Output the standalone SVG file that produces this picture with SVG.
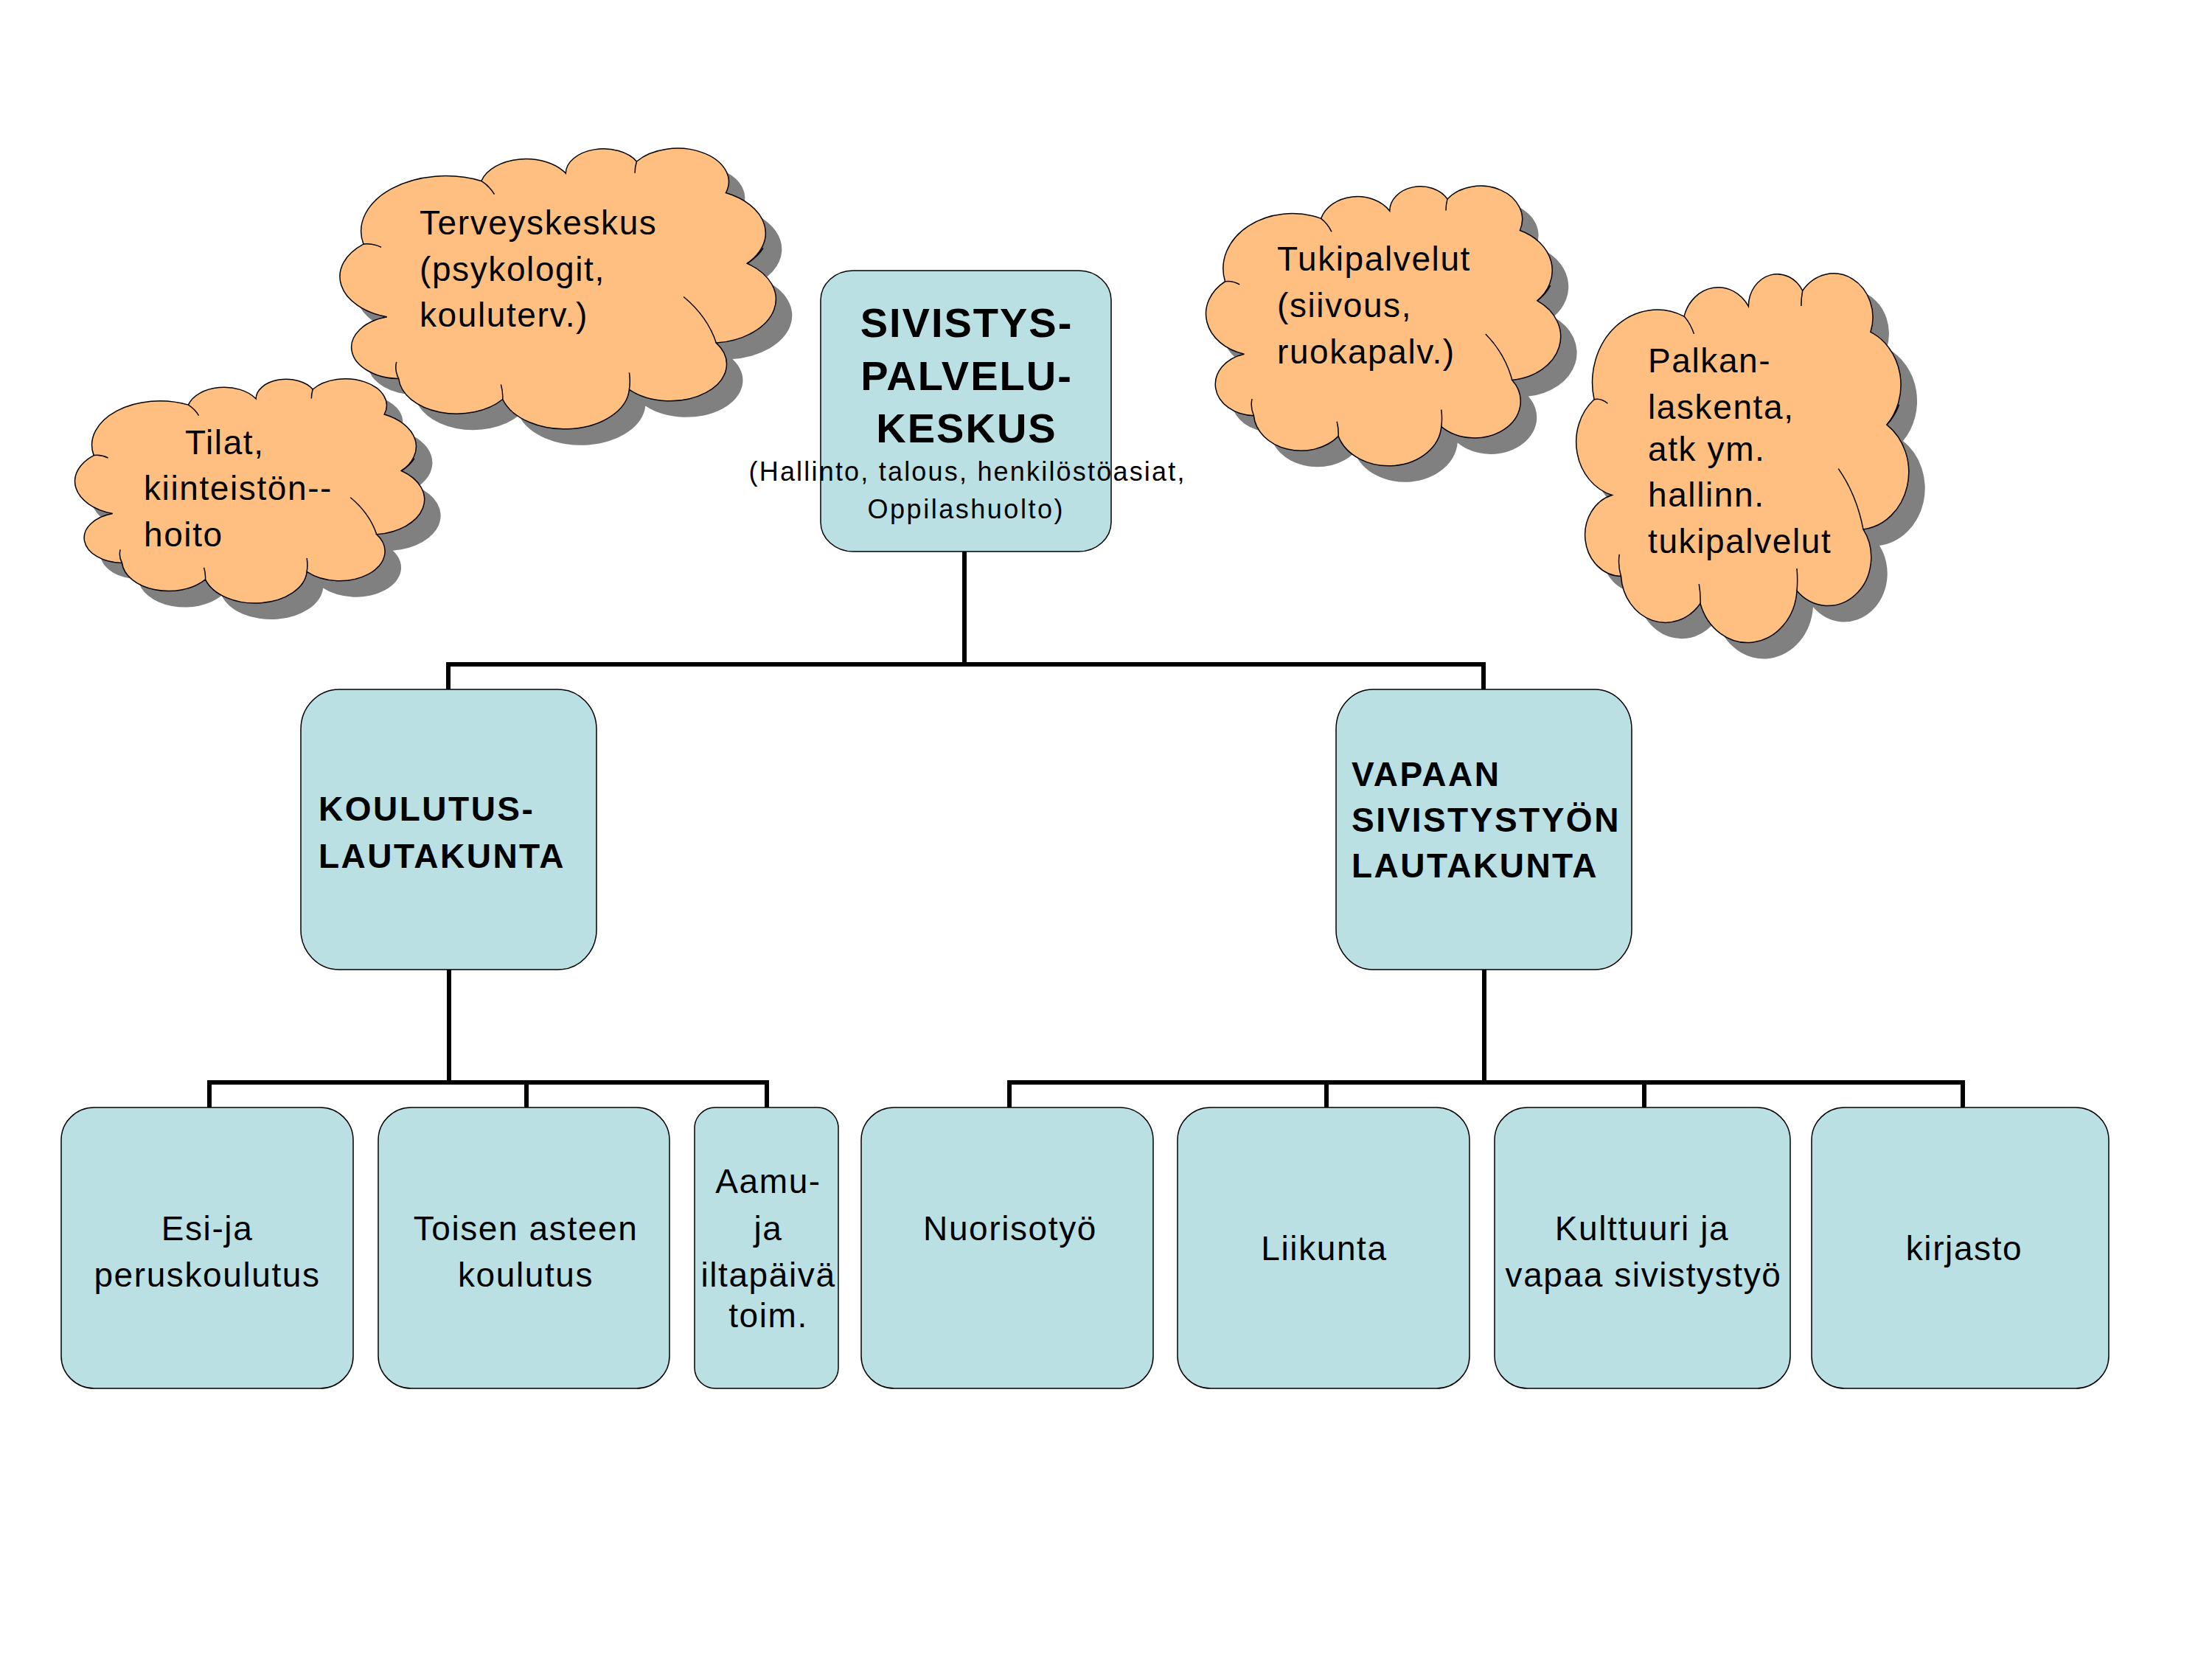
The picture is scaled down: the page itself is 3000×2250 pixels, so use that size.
<svg xmlns="http://www.w3.org/2000/svg" width="3000" height="2250" viewBox="0 0 3000 2250">
<defs>
<style>
.box{fill:#BBE0E3;stroke:#000;stroke-width:1.5}
.cloud{fill:#FFBF80;stroke:#000}
.inner{fill:none;stroke:#000}
.shadow{fill:#808080;stroke:none}
.conn{stroke:#000;stroke-width:6;fill:none;stroke-linecap:square}
text{font-family:"Liberation Sans",Arial,sans-serif;fill:#000}
.t{font-size:46px;letter-spacing:1.6px}
.b{font-size:46px;font-weight:bold;letter-spacing:2.5px}
.h{font-size:56px;font-weight:bold;letter-spacing:2px}
.s{font-size:36px}
</style>
<path id="cloudShape" vector-effect="non-scaling-stroke" stroke-width="1.5" d="M4.9 34.4 A19.5 19.5 0 0 1 32 12.1 A10.7 10.7 0 0 1 51.4 9.4 A8.7 8.7 0 0 1 67.7 5.2 A11.8 11.8 0 0 1 88.2 16.3 A15.6 15.6 0 0 1 93.1 41.2 A15.5 15.5 0 0 1 86 69.3 A13 13 0 0 1 66 85.8 A14.9 14.9 0 0 1 36.9 89.2 A13.4 13.4 0 0 1 13 81.9 A11.1 11.1 0 0 1 10.3 60.1 A14.8 14.8 0 0 1 4.9 34.4 Z"/>
<path id="cloudInner" vector-effect="non-scaling-stroke" stroke-width="1.5" d="M4.9 34.4 Q7 34 9 35.5 M32 12.1 Q33.8 13.8 35 16.8 M67.7 5.2 Q67.3 7.2 67.3 9.3 M93.1 41.2 Q95.5 39 96.8 35.8 M86 69.3 Q84 60 78.5 53 M66 85.8 Q66.3 83 66 79.8 M36.9 89.2 Q37 86.5 36.5 84 M13 81.9 Q12 79 12.5 76"/>
</defs>
<rect width="3000" height="2250" fill="#fff"/>

<g id="connectors">
<path class="conn" d="M1308 748 V901 M608 901 H2012 M608 901 V935 M2012 901 V935 M609 1315 V1468 M284 1468 H1040 M284 1468 V1502 M714 1468 V1502 M1040 1468 V1502 M2013 1315 V1468 M1369 1468 H2662 M1369 1468 V1502 M1799 1468 V1502 M2230 1468 V1502 M2662 1468 V1502"/>
</g>

<g id="cloud-terveyskeskus">
<use href="#cloudShape" class="shadow" transform="translate(486,221) scale(5.9,3.84)"/>
<use href="#cloudShape" class="cloud" transform="translate(464,199) scale(5.9,3.84)"/>
<use href="#cloudInner" class="inner" transform="translate(464,199) scale(5.9,3.84)"/>
<text class="t" x="569" y="318">Terveyskeskus</text>
<text class="t" x="569" y="381">(psykologit,</text>
<text class="t" x="569" y="443">kouluterv.)</text>
</g>

<g id="cloud-tilat">
<use href="#cloudShape" class="shadow" transform="translate(126,534) scale(4.73,3.07)"/>
<use href="#cloudShape" class="cloud" transform="translate(104,512) scale(4.73,3.07)"/>
<use href="#cloudInner" class="inner" transform="translate(104,512) scale(4.73,3.07)"/>
<text class="t" x="251" y="616">Tilat,</text>
<text class="t" x="195" y="678">kiinteistön--</text>
<text class="t" x="195" y="741">hoito</text>
</g>

<g id="cloud-tukipalvelut">
<use href="#cloudShape" class="shadow" transform="translate(1660,272) scale(4.8,3.83)"/>
<use href="#cloudShape" class="cloud" transform="translate(1638,250) scale(4.8,3.83)"/>
<use href="#cloudInner" class="inner" transform="translate(1638,250) scale(4.8,3.83)"/>
<text class="t" x="1732" y="367">Tukipalvelut</text>
<text class="t" x="1732" y="430">(siivous,</text>
<text class="t" x="1732" y="493">ruokapalv.)</text>
</g>

<g id="cloud-palkanlaskenta">
<use href="#cloudShape" class="shadow" transform="translate(2162,390) scale(4.5,5.05)"/>
<use href="#cloudShape" class="cloud" transform="translate(2140,368) scale(4.5,5.05)"/>
<use href="#cloudInner" class="inner" transform="translate(2140,368) scale(4.5,5.05)"/>
<text class="t" x="2235" y="505">Palkan-</text>
<text class="t" x="2235" y="568">laskenta,</text>
<text class="t" x="2235" y="625">atk ym.</text>
<text class="t" x="2235" y="687">hallinn.</text>
<text class="t" x="2235" y="750">tukipalvelut</text>
</g>

<g id="sivistyspalvelukeskus">
<rect class="box" x="1113" y="367" width="394" height="381" rx="44" ry="40"/>
<text class="h" x="1311" y="457" text-anchor="middle">SIVISTYS-</text>
<text class="h" x="1311" y="529" text-anchor="middle">PALVELU-</text>
<text class="h" x="1311" y="600" text-anchor="middle">KESKUS</text>
<text class="s" x="1311" y="652" text-anchor="middle" textLength="591" lengthAdjust="spacing">(Hallinto, talous, henkilöstöasiat,</text>
<text class="s" x="1309" y="703" text-anchor="middle" textLength="265" lengthAdjust="spacing">Oppilashuolto)</text>
</g>

<g id="koulutuslautakunta">
<rect class="box" x="408" y="935" width="401" height="380" rx="52" ry="54"/>
<text class="b" x="432" y="1113">KOULUTUS-</text>
<text class="b" x="432" y="1177">LAUTAKUNTA</text>
</g>

<g id="vapaan-sivistystyon-lautakunta">
<rect class="box" x="1812" y="935" width="401" height="380" rx="50" ry="54"/>
<text class="b" x="1833" y="1066">VAPAAN</text>
<text class="b" x="1833" y="1128">SIVISTYSTYÖN</text>
<text class="b" x="1833" y="1190">LAUTAKUNTA</text>
</g>

<g id="esi-ja-peruskoulutus">
<rect class="box" x="83" y="1502" width="396" height="381" rx="45" ry="44"/>
<text class="t" x="281" y="1682" text-anchor="middle">Esi-ja</text>
<text class="t" x="281" y="1745" text-anchor="middle">peruskoulutus</text>
</g>

<g id="toisen-asteen-koulutus">
<rect class="box" x="513" y="1502" width="395" height="381" rx="45" ry="44"/>
<text class="t" x="713" y="1682" text-anchor="middle">Toisen asteen</text>
<text class="t" x="713" y="1745" text-anchor="middle">koulutus</text>
</g>

<g id="aamu-ja-iltapaiva">
<rect class="box" x="942" y="1502" width="195" height="381" rx="28" ry="28"/>
<text class="t" x="1042" y="1618" text-anchor="middle">Aamu-</text>
<text class="t" x="1042" y="1682" text-anchor="middle">ja</text>
<text class="t" x="1042" y="1745" text-anchor="middle">iltapäivä</text>
<text class="t" x="1042" y="1800" text-anchor="middle">toim.</text>
</g>

<g id="nuorisotyo">
<rect class="box" x="1168" y="1502" width="396" height="381" rx="45" ry="44"/>
<text class="t" x="1370" y="1682" text-anchor="middle">Nuorisotyö</text>
</g>

<g id="liikunta">
<rect class="box" x="1597" y="1502" width="396" height="381" rx="45" ry="44"/>
<text class="t" x="1796" y="1709" text-anchor="middle">Liikunta</text>
</g>

<g id="kulttuuri">
<rect class="box" x="2027" y="1502" width="401" height="381" rx="45" ry="44"/>
<text class="t" x="2227" y="1682" text-anchor="middle">Kulttuuri ja</text>
<text class="t" x="2229" y="1745" text-anchor="middle">vapaa sivistystyö</text>
</g>

<g id="kirjasto">
<rect class="box" x="2457" y="1502" width="403" height="381" rx="45" ry="44"/>
<text class="t" x="2664" y="1709" text-anchor="middle">kirjasto</text>
</g>
</svg>
